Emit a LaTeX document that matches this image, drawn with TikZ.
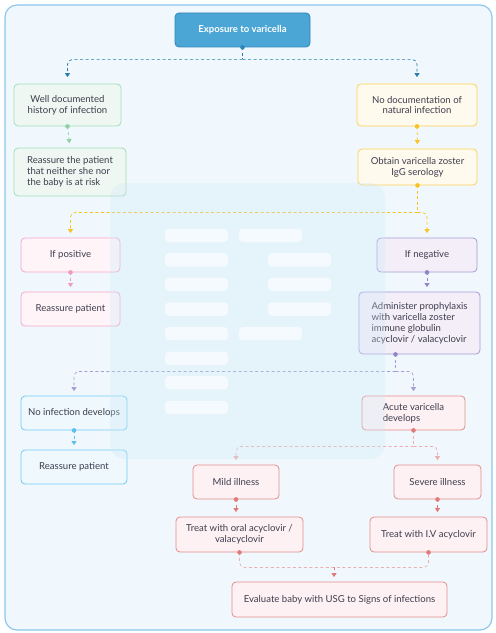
\documentclass[tikz,border=0pt]{standalone}
\usepackage{fontspec}
\setmainfont{Lato}
\usetikzlibrary{arrows.meta,calc}

\definecolor{txt}{HTML}{3D3D4D}
\definecolor{frameF}{HTML}{F0F8FD}
\definecolor{frameS}{HTML}{8CC8EC}
\definecolor{ttlF}{HTML}{4BA5D5}
\definecolor{ttlS}{HTML}{2F86BB}
\definecolor{ttlL}{HTML}{2A7CAE}
\definecolor{grnF}{HTML}{EEF7F1}
\definecolor{grnS}{HTML}{A6DDB9}
\definecolor{grnD}{HTML}{8DD0A6}
\definecolor{ylwF}{HTML}{FFFAEE}
\definecolor{ylwS}{HTML}{FDD256}
\definecolor{ylwD}{HTML}{F9C220}
\definecolor{pnkF}{HTML}{FFF5F9}
\definecolor{pnkS}{HTML}{F4A7CB}
\definecolor{pnkD}{HTML}{F19AC0}
\definecolor{prpF}{HTML}{F4EEF8}
\definecolor{prpS}{HTML}{A49DD6}
\definecolor{prpD}{HTML}{8F86C8}
\definecolor{bluF}{HTML}{EEF8FD}
\definecolor{bluS}{HTML}{72CBF2}
\definecolor{bluD}{HTML}{5CC0EF}
\definecolor{redF}{HTML}{FDF1F4}
\definecolor{redS}{HTML}{E58C8C}
\definecolor{redD}{HTML}{E07B7B}
\definecolor{redL}{HTML}{EBAFAF}
\definecolor{wmF}{HTML}{CDE9F9}

\tikzset{
  box/.style={draw, rounded corners=4bp, line width=0.8bp, text=txt,
    font=\fontsize{9.6}{11}\selectfont, inner sep=2bp},
  gbox/.style={box, draw=grnS, fill=grnF},
  ybox/.style={box, draw=ylwS, fill=ylwF},
  pbox/.style={box, draw=pnkS, fill=pnkF},
  vbox/.style={box, draw=prpS, fill=prpF},
  bbox/.style={box, draw=bluS, fill=bluF},
  rbox/.style={box, draw=redS, fill=redF},
  link/.style={draw=#1, line width=0.7bp, dash pattern=on 3bp off 2.5bp,
    rounded corners=5bp},
  linkto/.style={link=#1, -{Triangle[width=5bp,length=4bp,fill=#1]},
    shorten >=4.5bp},
  bar/.style={fill=white, fill opacity=0.6, rounded corners=4bp},
}

\begin{document}
\begin{tikzpicture}[x=1bp,y=-1bp]
\useasboundingbox (0,0) rectangle (496,633);

% outer panel
\draw[draw=frameS, fill=frameF, line width=1.2bp, rounded corners=12bp]
  (5,5) rectangle (492,630);

% boxes
\node[box, draw=ttlS, fill=ttlF, text=white, font=\bfseries\fontsize{9.6}{11}\selectfont,
  minimum width=135bp, minimum height=34bp] (ttl) at (242.5,30) {Exposure to varicella};

\node[gbox, minimum width=107bp, minimum height=42bp, align=center] (wd) at (67.5,105)
  {Well documented\\history of infection};
\node[gbox, minimum width=112bp, minimum height=48bp, align=left] (ra) at (70,172)
  {Reassure the patient\\that neither she nor\\the baby is at risk};

\node[ybox, minimum width=120bp, minimum height=42bp, align=center] (nd) at (417,105)
  {No documentation of\\natural infection};
\node[ybox, minimum width=119bp, minimum height=36bp, align=center] (ser) at (417.5,167)
  {Obtain varicella zoster\\IgG serology};

\node[pbox, minimum width=99bp, minimum height=34bp] (pos) at (70.5,255) {If positive};
\node[pbox, minimum width=99bp, minimum height=34bp] (rp1) at (70.5,309) {Reassure patient};

\node[vbox, minimum width=100bp, minimum height=34bp] (neg) at (427,255) {If negative};
\node[vbox, minimum width=121bp, minimum height=62bp, align=left] (adm) at (419.5,323)
  {Administer prophylaxis\\with varicella zoster\\immune globulin\\acyclovir / valacyclovir};

\node[bbox, minimum width=106bp, minimum height=34bp] (noi) at (74,413) {No infection develops};
\node[bbox, minimum width=106bp, minimum height=34bp] (rp2) at (74,467) {Reassure patient};

\node[rbox, minimum width=103bp, minimum height=34bp, align=left] (acu) at (413.5,413)
  {Acute varicella\\develops};
\node[rbox, minimum width=86bp, minimum height=34bp] (mld) at (236,482) {Mild illness};
\node[rbox, minimum width=87bp, minimum height=34bp] (sev) at (437.5,482) {Severe illness};
\node[rbox, minimum width=127bp, minimum height=35bp, align=center] (oral) at (239.5,534.5)
  {Treat with oral acyclovir /\\valacyclovir};
\node[rbox, minimum width=117bp, minimum height=35bp] (iv) at (428.5,534.5) {Treat with I.V acyclovir};
\node[rbox, minimum width=215bp, minimum height=35bp] (ev) at (339.5,599.5)
  {Evaluate baby with USG to Signs of infections};

% branch points (canvas shifts: negative yshift goes down)
\coordinate (j1) at ([yshift=-12bp]ttl.south);
\coordinate (j2) at ([yshift=-27bp]ser.south);
\coordinate (admout) at ([xshift=-24bp]adm.south);
\coordinate (j3) at ([yshift=-17bp]admout);
\coordinate (j4) at ([yshift=-16bp]acu.south);
\coordinate (j5) at ($(oral.south)!0.5!(iv.south)+(0,15)$);

% connectors
\draw[link=ttlL] (ttl.south) -- (j1);
\draw[linkto=ttlL] (j1) -| ([yshift=2bp]wd.north);
\draw[linkto=ttlL] (j1) -| ([yshift=2bp]nd.north);
\draw[linkto=grnD] (wd.south) -- (ra.north);
\draw[linkto=ylwD] (nd.south) -- (ser.north);
\draw[link=ylwD] (ser.south) -- (j2);
\draw[linkto=ylwD] (j2) -| (pos.north);
\draw[linkto=ylwD] (j2) -| (neg.north);
\draw[linkto=pnkD] (pos.south) -- (rp1.north);
\draw[linkto=prpD] (neg.south) -- (neg.south |- adm.north);
\draw[link=prpS] (admout) -- (j3);
\draw[linkto=prpS] (j3) -| (noi.north);
\draw[linkto=prpS] (j3) -| (acu.north);
\draw[linkto=bluD] (noi.south) -- (rp2.north);
\draw[link=redL] (acu.south) -- (j4);
\draw[linkto=redL] (j4) -| (mld.north);
\draw[linkto=redL] (j4) -| (sev.north);
\draw[linkto=redD] (mld.south) -- (oral.north -| mld.south);
\draw[linkto=redD] (sev.south) -- (iv.north -| sev.south);
\draw[link=redL] (oral.south) |- (j5) -| (iv.south);
\draw[linkto=redD] (j5) -- (ev.north -| j5);

% start dots
\fill[ttlS] (ttl.south) circle (2.3bp);
\fill[grnD] (wd.south) circle (2.3bp);
\fill[ylwD] (nd.south) circle (2.3bp);
\fill[ylwD] (ser.south) circle (2.3bp);
\fill[pnkD] (pos.south) circle (2.3bp);
\fill[prpD] (neg.south) circle (2.3bp);
\fill[prpD] (admout) circle (2.3bp);
\fill[bluD] (noi.south) circle (2.3bp);
\fill[redD] (acu.south) circle (2.3bp);
\fill[redD] (mld.south) circle (2.3bp);
\fill[redD] (sev.south) circle (2.3bp);
\fill[redD] (oral.south) circle (2.3bp);
\fill[redD] (iv.south) circle (2.3bp);

% faded panel with placeholder bars
\fill[wmF, fill opacity=0.3, rounded corners=15bp] (110,183) rectangle (385,459);
\foreach \r in {0,...,7}
  \fill[bar] (165,228.5+24.6*\r) rectangle ++(63,13.5);
\foreach \r in {0,4}
  \fill[bar] (239,228.5+24.6*\r) rectangle ++(63,13.5);
\foreach \r in {1,2,3}
  \fill[bar] (268,228.5+24.6*\r) rectangle ++(63,13.5);
\end{tikzpicture}
\end{document}
